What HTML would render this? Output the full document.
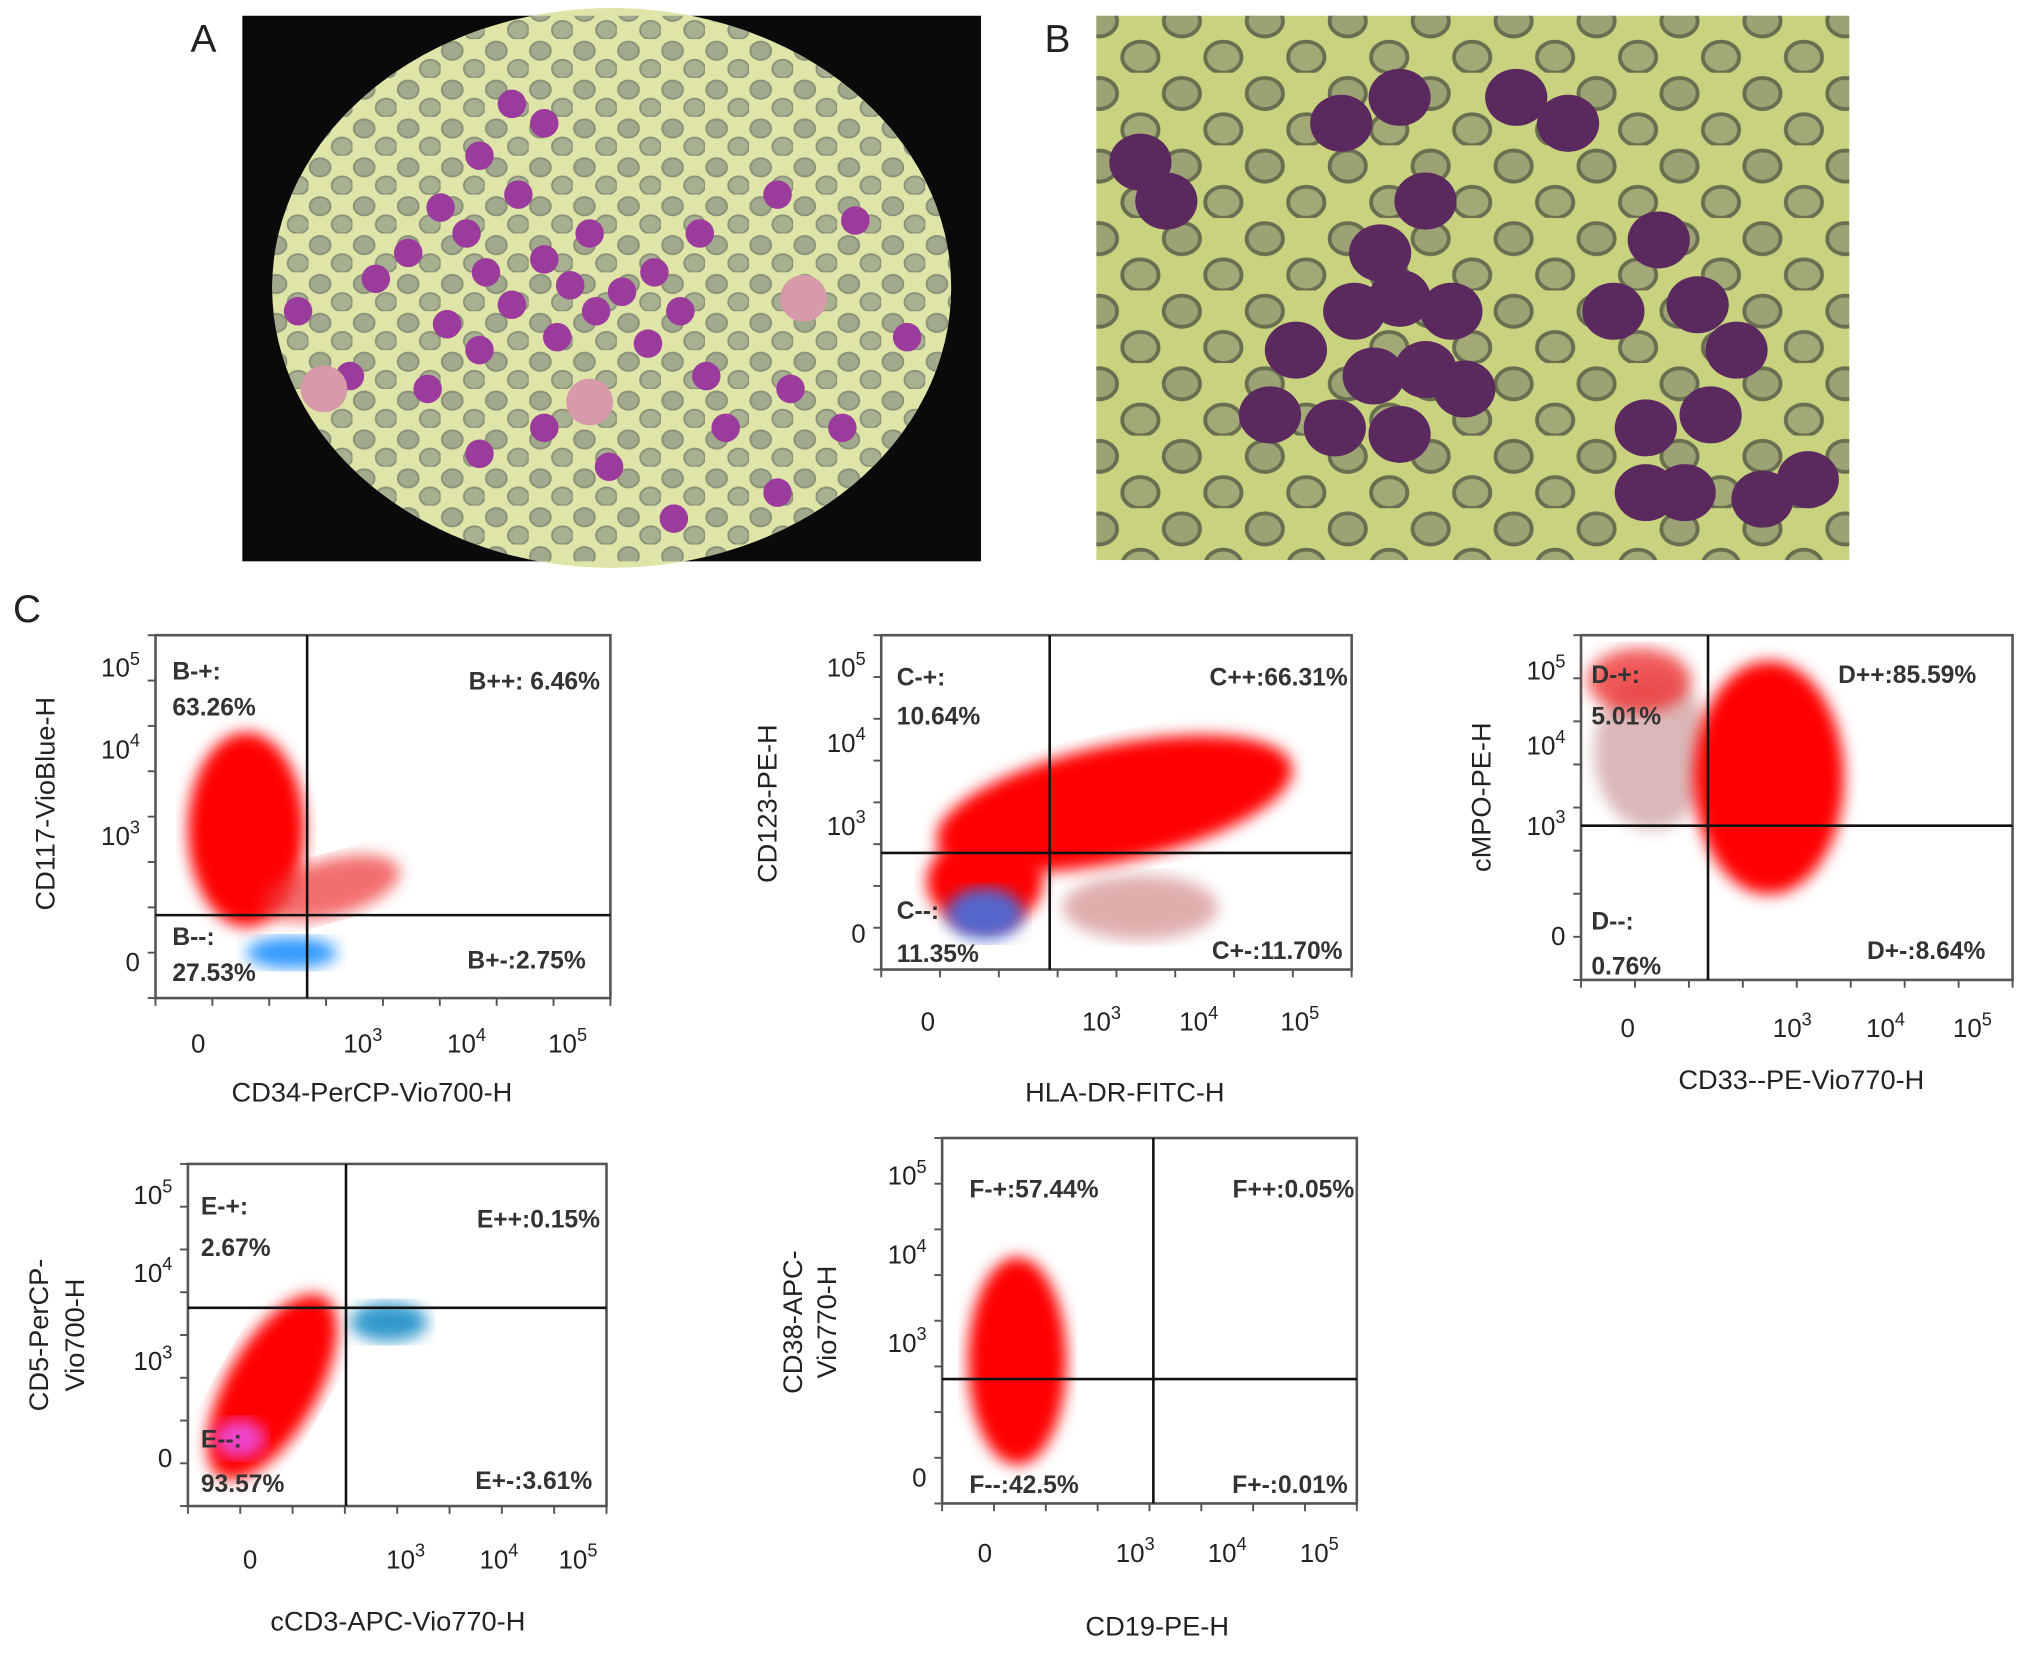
<!DOCTYPE html>
<html><head><meta charset="utf-8">
<style>
html,body{margin:0;padding:0;background:#fff;}
svg{display:block;}
text{font-family:"Liberation Sans",sans-serif;fill:#222;}
.q{font-weight:bold;font-size:19px;fill:#333;}
</style></head>
<body>
<svg id="fig" width="2032" height="1654" viewBox="0 0 1568 1276" xmlns="http://www.w3.org/2000/svg">
<defs>
<filter id="blur4"><feGaussianBlur stdDeviation="6"/></filter>
<filter id="blur2"><feGaussianBlur stdDeviation="3"/></filter>
<pattern id="rbcA" width="34" height="30" patternUnits="userSpaceOnUse">
<ellipse cx="9" cy="9" rx="8" ry="7" fill="#8d9684" stroke="#6e7668" stroke-width="1.5"/>
<ellipse cx="26" cy="23" rx="8" ry="7" fill="#959e8a" stroke="#6e7668" stroke-width="1.5"/>
</pattern>
<pattern id="rbcB" width="64" height="56" patternUnits="userSpaceOnUse">
<ellipse cx="16" cy="16" rx="14" ry="12" fill="#8e9270" stroke="#4a4d40" stroke-width="3"/>
<ellipse cx="48" cy="44" rx="14" ry="12" fill="#969a74" stroke="#4a4d40" stroke-width="3"/>
</pattern>
<clipPath id="circA"><ellipse cx="472" cy="222" rx="262" ry="216"/></clipPath>
</defs>

<text x="147" y="40" font-size="30">A</text>
<text x="806" y="40" font-size="30">B</text>
<text x="10" y="480" font-size="30">C</text>

<g>
<rect x="187" y="12" width="570" height="421" fill="#0a0a0a"/>
<ellipse cx="472" cy="222" rx="262" ry="216" fill="#dfe4a8"/>
<g clip-path="url(#circA)" opacity="0.75"><rect x="187" y="12" width="570" height="421" fill="url(#rbcA)"/></g>
<g id="cellsA" fill="#9b3c9c"></g>
</g>

<g>
<rect x="846" y="12" width="581" height="420" fill="#c9d37f"/>
<rect x="846" y="12" width="581" height="420" fill="url(#rbcB)" opacity="0.75"/>
<g id="cellsB" fill="#5a2a5e"></g>
</g>

<g id="plots"></g>
</svg>
<script>
// Quadrant percentages (order: -+, ++, --, +-)
const plotNames=["B","C","D","E","F"];
const qMinusPlus=[63.26,10.64,5.01,2.67,57.44];
const qPlusPlus=[6.46,66.31,85.59,0.15,0.05];
const qMinusMinus=[27.53,11.35,0.76,93.57,42.5];
const qPlusMinus=[2.75,11.70,8.64,3.61,0.01];
const xTitles=["CD34-PerCP-Vio700-H","HLA-DR-FITC-H","CD33--PE-Vio770-H","cCD3-APC-Vio770-H","CD19-PE-H"];
const yTitles=[["CD117-VioBlue-H"],["CD123-PE-H"],["cMPO-PE-H"],["CD5-PerCP-","Vio700-H"],["CD38-APC-","Vio770-H"]];
const tickLabels=["0","3","4","5"];

const NS="http://www.w3.org/2000/svg";
function el(tag,attrs,parent,txt){const e=document.createElementNS(NS,tag);for(const k in attrs)e.setAttribute(k,attrs[k]);if(txt!==undefined)e.textContent=txt;parent.appendChild(e);return e;}

const cA=[[290,215],[315,195],[340,160],[360,180],[375,210],[395,235],[420,200],[440,220],[460,240],[480,225],[505,210],[525,240],[455,180],[400,150],[370,120],[420,95],[395,80],[345,250],[370,270],[430,260],[500,265],[540,180],[330,300],[370,350],[420,330],[470,360],[520,400],[560,330],[600,380],[650,330],[700,260],[660,170],[600,150],[270,290],[230,240],[545,290],[610,300]];
const gA=document.getElementById('cellsA');
cA.forEach(p=>{const c=el('circle',{cx:p[0],cy:p[1],r:11},gA);});
[[620,230],[250,300],[455,310]].forEach(p=>{const c=el('circle',{cx:p[0],cy:p[1],r:18,fill:'#d69aa8'},gA);});
const cB=[[900,155],[880,125],[1035,95],[1080,75],[1170,75],[1210,95],[1100,155],[1065,195],[1045,240],[1080,230],[1120,240],[1100,285],[1060,290],[1130,300],[1000,270],[1030,330],[1080,335],[1280,185],[1310,235],[1340,270],[1245,240],[1270,330],[1320,320],[1300,380],[980,320],[1360,385],[1395,370],[1270,380]];
const gB=document.getElementById('cellsB');
cB.forEach(p=>{const c=el('ellipse',{cx:p[0],cy:p[1],rx:24,ry:22},gB);});

const L=[
{b:[120,490,471,770],qx:237,qy:706,yt:[742,645,578,515],yx:108,xt:[153,280,360,438],xy:812,tx:287,ty:850,yc:[35],ycy:620,
 blobs:[[190,640,45,75,0,'#f00',1],[255,685,55,22,-15,'#e33',0.7],[225,735,35,12,0,'#39f',1]],
 lab:[[133,517,"B-+:"],[133,545,"63.26%"],[133,722,"B--:"],[133,750,"27.53%"]],rl:[[463,525,"B++: 6.46%"],[452,740,"B+-:2.75%"]]},
{b:[680,490,1043,748],qx:810,qy:658,yt:[720,637,573,515],yx:668,xt:[716,850,925,1003],xy:795,tx:868,ty:850,yc:[592],ycy:620,
 blobs:[[860,620,140,45,-12,'#f00',1],[760,680,45,35,0,'#f00',1],[760,705,30,20,0,'#56c',1],[880,700,60,25,0,'#c77',0.6]],
 lab:[[692,522,"C-+:"],[692,552,"10.64%"],[692,702,"C--:"],[692,735,"11.35%"]],rl:[[1040,522,"C++:66.31%"],[1036,733,"C+-:11.70%"]]},
{b:[1220,490,1553,756],qx:1318,qy:637,yt:[722,637,575,517],yx:1208,xt:[1256,1383,1455,1522],xy:800,tx:1390,ty:840,yc:[1143],ycy:615,
 blobs:[[1275,580,45,60,0,'#c99',0.7],[1265,525,40,25,0,'#e33',0.8],[1365,600,58,90,0,'#f00',1]],
 lab:[[1228,520,"D-+:"],[1228,552,"5.01%"],[1228,710,"D--:"],[1228,745,"0.76%"]],rl:[[1525,520,"D++:85.59%"],[1532,733,"D+-:8.64%"]]},
{b:[145,898,468,1162],qx:267,qy:1009,yt:[1125,1050,982,922],yx:133,xt:[193,313,385,446],xy:1210,tx:307,ty:1258,yc:[30,58],ycy:1030,
 blobs:[[210,1070,35,80,30,'#f00',1],[300,1020,30,15,0,'#39c',1],[185,1110,20,15,0,'#e4c',1]],
 lab:[[155,930,"E-+:"],[155,962,"2.67%"],[155,1110,"E--:"],[155,1144,"93.57%"]],rl:[[463,940,"E++:0.15%"],[457,1142,"E+-:3.61%"]]},
{b:[727,878,1047,1160],qx:890,qy:1064,yt:[1140,1036,968,907],yx:715,xt:[760,876,947,1018],xy:1205,tx:893,ty:1262,yc:[612,638],ycy:1020,
 blobs:[[785,1050,38,80,0,'#f00',1]],
 lab:[[748,917,"F-+:57.44%"],[748,1145,"F--:42.5%"]],rl:[[1045,917,"F++:0.05%"],[1040,1145,"F+-:0.01%"]]}
];
const root=document.getElementById('plots');
L.forEach((p,i)=>{
 const g=el('g',{},root);
 
 
 const [x0,y0,x1,y1]=p.b;
 const bg=el('rect',{x:x0,y:y0,width:x1-x0,height:y1-y0,fill:'#fff',stroke:'#555','stroke-width':2},g);
 
 p.blobs.forEach(b=>{const e=el('ellipse',{cx:b[0],cy:b[1],rx:b[2],ry:b[3],fill:b[5],opacity:b[6],filter:'url(#blur4)',transform:`rotate(${b[4]} ${b[0]} ${b[1]})`},g);});
 const vl=el('line',{x1:p.qx,y1:y0,x2:p.qx,y2:y1,stroke:'#111','stroke-width':2},g);
 
 const hl=el('line',{x1:x0,y1:p.qy,x2:x1,y2:p.qy,stroke:'#111','stroke-width':2},g);
 
 for(let k=0;k<=8;k++){const tx=x0+(x1-x0)*k/8;el('line',{x1:tx,y1:y1,x2:tx,y2:y1+6,stroke:'#555','stroke-width':1.5},g);const ty=y0+(y1-y0)*k/8;el('line',{x1:x0-6,y1:ty,x2:x0,y2:ty,stroke:'#555','stroke-width':1.5},g);}
 p.yt.forEach((y,k)=>{
  const t=el('text',{x:p.yx,y:y+7,'font-size':20,'text-anchor':'end'},g);
  
  if(k===0)t.textContent='0';else{t.textContent='10';el('tspan',{'font-size':14,dy:-9},t,tickLabels[k]);}
 });
 p.xt.forEach((x,k)=>{
  const t=el('text',{x:x,y:p.xy,'font-size':20,'text-anchor':'middle'},g);
  
  if(k===0)t.textContent='0';else{t.textContent='10';el('tspan',{'font-size':14,dy:-9},t,tickLabels[k]);}
 });
 const xt=el('text',{x:p.tx,y:p.ty,'font-size':21,'text-anchor':'middle'},g,xTitles[i]);
 
 yTitles[i].forEach((s,k)=>{
  const x=p.yc[k]+7;
  const yt=el('text',{x:x,y:p.ycy,'font-size':21,'text-anchor':'middle',transform:`rotate(-90 ${x} ${p.ycy})`},g,s);
  
 });
 p.lab.forEach(l=>{const t=el('text',{x:l[0],y:l[1]+7,class:'q'},g,l[2]);});
 p.rl.forEach(l=>{const t=el('text',{x:l[0],y:l[1]+7,class:'q','text-anchor':'end'},g,l[2]);});
});
</script>
</body></html>
